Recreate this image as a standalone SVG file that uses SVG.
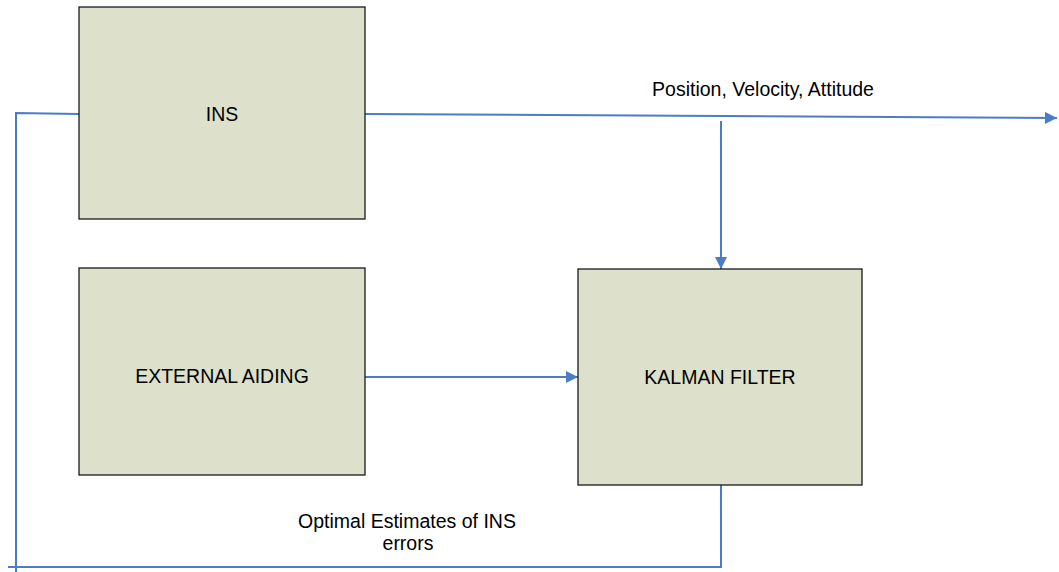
<svg xmlns="http://www.w3.org/2000/svg" width="1059" height="572" viewBox="0 0 1059 572">
<style>
.box{fill:#dde0ca;stroke:#1a1a1a;stroke-width:1.3}
.t{font-family:"Liberation Sans",Arial,sans-serif;font-size:19.5px;fill:#000;text-anchor:middle}
.c{fill:none;stroke:#4a7cc8;stroke-width:2}
</style>
<defs>
<marker id="ahs" markerWidth="14" markerHeight="14" refX="12" refY="6" orient="auto" markerUnits="userSpaceOnUse"><path d="M0,0 L12,6 L0,12 Z" fill="#4a7cc8"/></marker>
</defs>
<g id="connectors">
<path class="c" d="M365,114 L1057,118" marker-end="url(#ahs)"/>
<path class="c" d="M721,121 L721,269" marker-end="url(#ahs)"/>
<path class="c" d="M365,377 L578,377" marker-end="url(#ahs)"/>
<path class="c" d="M721,485 L721,567 L8,567"/>
<path class="c" d="M79,114 L16,113 L16,572"/>
</g>
<g id="ins"><rect class="box" x="79" y="7" width="286" height="212"/><text class="t" x="222" y="121">INS</text></g>
<g id="external-aiding"><rect class="box" x="79" y="268" width="286" height="207"/><text class="t" x="222" y="383">EXTERNAL AIDING</text></g>
<g id="kalman-filter"><rect class="box" x="578" y="269" width="284" height="216"/><text class="t" x="720" y="384">KALMAN FILTER</text></g>
<g id="labels">
<text class="t" x="763" y="96">Position, Velocity, Attitude</text>
<text class="t" x="407" y="528">Optimal Estimates of INS</text>
<text class="t" x="408" y="550">errors</text>
</g>
</svg>
